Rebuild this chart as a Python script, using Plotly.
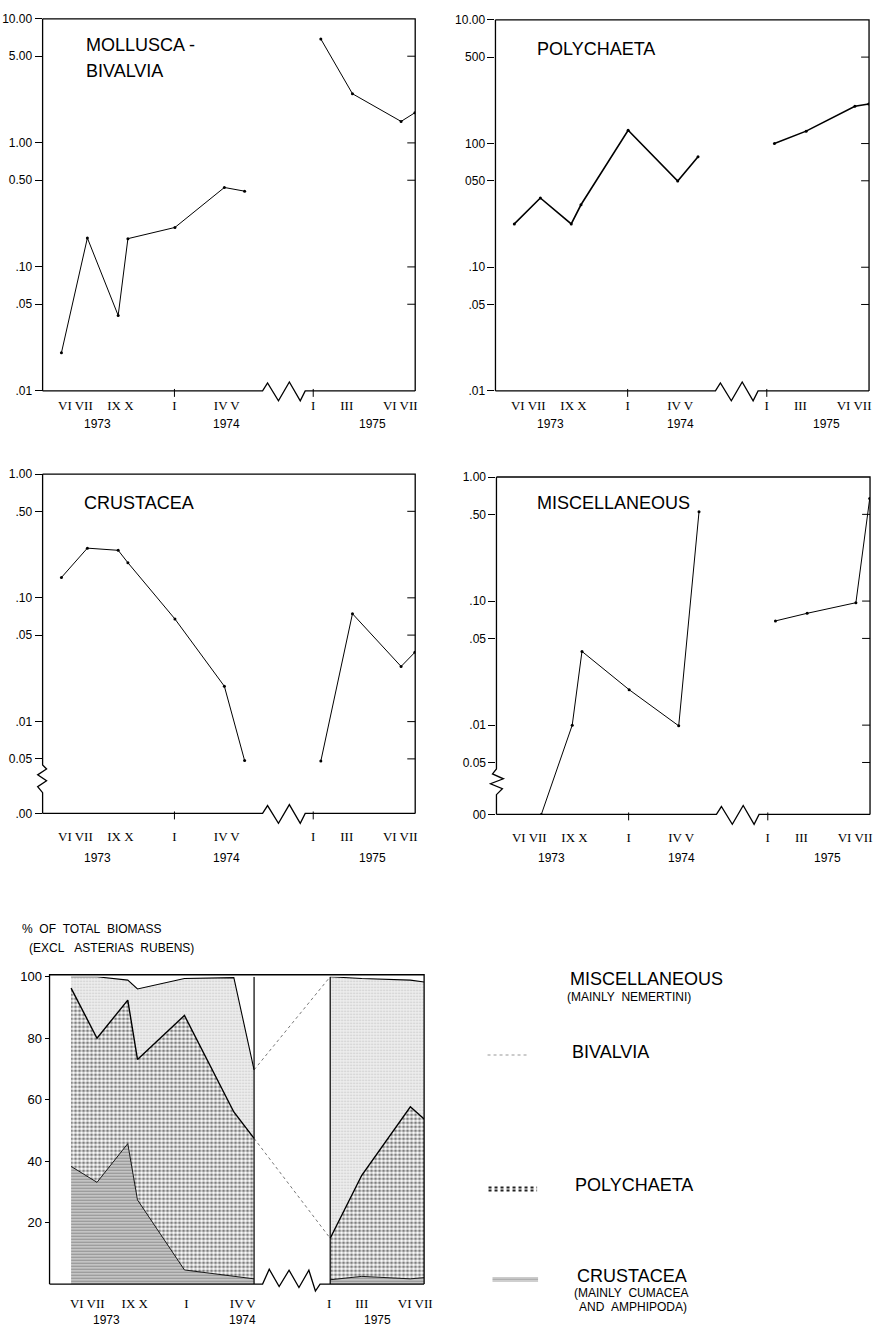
import math
import plotly.graph_objects as go

W, H = 882, 1336

# ---------------- data ----------------
# sampling times in month numbers (Jan 1973 = 1, Jan 1975 = 25)
months_7374 = [6.5, 8.1, 10.0, 10.6, 13.5, 16.55, 17.8]
months_75 = [25.5, 27.45, 30.45, 31.3]
AXIS_GAP = 3.0  # months cut out by the break of the time axis

# biomass (log panels)
mollusca_7374 = [0.0203, 0.171, 0.0406, 0.169, 0.208, 0.437, 0.408]
mollusca_75 = [6.88, 2.49, 1.49, 1.75]
polychaeta_7374 = [0.224, 0.363, 0.224, 0.32, 1.28, 0.497, 0.783]
polychaeta_75 = [1.0, 1.26, 2.0, 2.09]
crustacea_7374 = [0.146, 0.252, 0.242, 0.192, 0.0675, 0.0193, 0.00484]
crustacea_75 = [0.0048, 0.0744, 0.0279, 0.0363]
misc_7374 = [None, 0.0, 0.01, 0.0393, 0.0193, 0.00987, 0.525]
misc_75 = [0.0692, 0.0797, 0.097, 0.67]

# % of total biomass (stacked)
pct_crustacea_7374 = [38.3, 33.1, 45.7, 27.4, 4.6, 2.5, 1.7]
pct_polychaeta_7374 = [58.0, 46.9, 46.7, 45.7, 82.8, 53.5, 45.7]
pct_bivalvia_7374 = [3.7, 20.0, 6.5, 22.9, 12.0, 43.7, 22.3]
pct_misc_7374 = [0.0, 0.0, 1.1, 4.0, 0.6, 0.3, 30.3]
pct_crustacea_75 = [1.4, 2.5, 1.7, 2.1]
pct_polychaeta_75 = [13.5, 32.9, 56.0, 51.6]
pct_bivalvia_75 = [85.1, 64.0, 41.2, 44.6]
pct_misc_75 = [0.0, 0.6, 1.1, 1.7]

# tick labels
month_tick_text = ["VI VII", "IX X", "I", "IV V", "I", "III", "VI VII"]
month_tick_pos = [7.36, 10.14, 13.47, 16.7, 25.03, 27.1, 30.4]
month_tick_pos_pct = [7.5, 10.43, 13.62, 17.1, 25.43, 27.45, 30.75]
year_text = ["1973", "1974", "1975"]
year_pos = [8.7, 16.7, 28.7]
year_pos_pct = [8.66, 17.1, 28.4]

log_tickvals_a = [10, 5, 1, 0.5, 0.1, 0.05, 0.01]
mollusca_ticktext = ["10.00", "5.00", "1.00", "0.50", ".10", ".05", ".01"]
polychaeta_ticktext = ["10.00", "500", "100", "050", ".10", ".05", ".01"]
log_tickvals_b = [1, 0.5, 0.1, 0.05, 0.01, 0.005]
crustacea_ticktext = ["1.00", ".50", ".10", ".05", ".01", "0.05", ".00"]
misc_ticktext = ["1.00", ".50", ".10", ".05", ".01", "0.05", "00"]
pct_tickvals = [100, 80, 60, 40, 20]


def xmap(m):
    return m - AXIS_GAP if m > 20 else m


def px(x, y):
    return x / W, 1 - y / H


def P(x, y):
    a, b = px(x, y)
    return f"{a:.5f},{b:.5f}"


SANS = "Liberation Sans"
SERIF = "Liberation Serif"

fig = go.Figure()
shapes = []
annotations = []

X_RANGE = [5.339, 28.32]

panels = [
    dict(ax="", box=(43, 419, 12, 388), yr=[-2, 1], tv=log_tickvals_a, tt=mollusca_ticktext,
         d1=mollusca_7374, d2=mollusca_75, title=["MOLLUSCA -", "BIVALVIA"], tpos=(85, 38),
         lw=1.0, ybreak=None, ylab=421, tl=2),
    dict(ax="2", box=(500, 877, 13, 388), yr=[-2, 1], tv=log_tickvals_a, tt=polychaeta_ticktext,
         d1=polychaeta_7374, d2=polychaeta_75, title=["POLYCHAETA"], tpos=(540, 42),
         lw=1.6, ybreak=None, ylab=421, tl=2),
    dict(ax="3", box=(43, 419, 472, 815), yr=[-2.742, 0], tv=log_tickvals_b, tt=crustacea_ticktext,
         d1=crustacea_7374, d2=crustacea_75, title=["CRUSTACEA"], tpos=(83, 501),
         lw=1.0, ybreak=[(0, 766), (4, 770), (-5, 776), (4, 782), (-5, 788), (0, 794)], ylab=860, tl=11),
    dict(ax="4", box=(501, 878, 475, 816), yr=[-2.72, 0], tv=log_tickvals_b, tt=misc_ticktext,
         d1=misc_7374, d2=misc_75, title=["MISCELLANEOUS"], tpos=(540, 501),
         lw=1.0, ybreak=[(0, 770), (-4, 775), (7, 780), (-6, 785), (6, 790), (0, 796)], ylab=860, tl=11),
]

for p in panels:
    L, R, T, B = p["box"]
    xa = "x" + p["ax"]
    ya = "y" + p["ax"]
    zero = 10 ** p["yr"][0]

    def fix(vals):
        return [zero if (v is not None and v == 0) else v for v in vals]

    for xs, ys in ((months_7374, p["d1"]), (months_75, p["d2"])):
        fig.add_trace(go.Scatter(
            x=[xmap(m) for m in xs], y=fix(ys), mode="lines+markers",
            line=dict(color="black", width=p["lw"]),
            marker=dict(color="black", size=3), showlegend=False,
            xaxis=xa, yaxis=ya, hoverinfo="skip"))

    tickvals = list(p["tv"])
    if len(tickvals) < len(p["tt"]):
        tickvals.append(zero)
    x0, y1 = px(L, T)
    x1, y0 = px(R, B)
    fig.layout["xaxis" + p["ax"]] = dict(
        domain=[x0, x1], range=X_RANGE, anchor=ya, showgrid=False, zeroline=False, showline=False,
        tickmode="array", tickvals=[xmap(m) for m in month_tick_pos], ticktext=month_tick_text,
        ticks="outside", ticklen=p["tl"], tickcolor="rgba(0,0,0,0)",
        tickfont=dict(family=SERIF, size=13, color="black"), fixedrange=True)
    fig.layout["yaxis" + p["ax"]] = dict(
        domain=[y0, y1], type="log", range=p["yr"], anchor=xa, showgrid=False, zeroline=False,
        showline=False, tickmode="array", tickvals=tickvals, ticktext=p["tt"],
        ticks="outside", ticklen=7, tickwidth=1, tickcolor="black",
        tickfont=dict(family=SANS, size=12, color="black"), fixedrange=True)

    # frame
    line = dict(color="black", width=1.3)
    shapes.append(dict(type="path", xref="paper", yref="paper",
                       path=f"M{P(L, T)} L{P(R, T)} L{P(R, B)}", line=line))
    if p["ybreak"] is None:
        path = f"M{P(L, T)} L{P(L, B)}"
    else:
        pts = [P(L + dx, y) for dx, y in p["ybreak"]]
        path = f"M{P(L, T)} L" + " L".join(pts) + f" L{P(L, B)}"
    shapes.append(dict(type="path", xref="paper", yref="paper", path=path, line=line))
    zz = [(222, 0), (227, -8), (238, 10), (249, -9), (260, 10), (265, 0)]
    path = f"M{P(L, B)} " + " ".join("L" + P(L + dx, B + dy) for dx, dy in zz) + f" L{P(R, B)}"
    shapes.append(dict(type="path", xref="paper", yref="paper", path=path, line=line))

    # inside ticks on the right edge
    r0, r1 = p["yr"]
    for v in p["tv"][1:]:
        if v == p["tv"][-1] and B < 400:
            continue
        frac = (math.log10(v) - r0) / (r1 - r0)
        yy = B - frac * (B - T)
        shapes.append(dict(type="line", xref="paper", yref="paper",
                           x0=px(R - 8, yy)[0], x1=px(R, yy)[0], y0=px(R, yy)[1], y1=px(R, yy)[1],
                           line=dict(color="black", width=1)))
    # small ticks at January
    for m in (month_tick_pos[2], month_tick_pos[4]):
        shapes.append(dict(type="line", xref=xa, yref="paper", x0=xmap(m), x1=xmap(m),
                           y0=px(0, B - 2)[1], y1=px(0, B + 6)[1], line=dict(color="black", width=1)))

    # titles
    tx, ty = p["tpos"]
    for i, t in enumerate(p["title"]):
        annotations.append(dict(text=t, x=px(tx, 0)[0], y=px(0, ty + 27 * i)[1], xref="paper", yref="paper",
                                xanchor="left", yanchor="middle", showarrow=False,
                                font=dict(family=SANS, size=18, color="black")))
    # years
    for t, m in zip(year_text, year_pos):
        annotations.append(dict(text=t, x=xmap(m), y=px(0, p["ylab"])[1], xref=xa, yref="paper",
                                xanchor="center", yanchor="middle", showarrow=False,
                                font=dict(family=SANS, size=12, color="black")))

# ---------------- stacked % chart ----------------
L5, R5, T5, B5 = 50, 428, 980, 1290.6
pat_crus = dict(shape="-", size=3, solidity=0.45, fgcolor="#505050", bgcolor="#cfcfcf")
pat_poly = dict(shape=".", size=4, solidity=0.5, fgcolor="#000000", bgcolor="#ffffff")
pat_biv = dict(shape=".", size=3, solidity=0.25, fgcolor="#9a9a9a", bgcolor="#eeeeee")

for grp, xs, layers in (
    ("a", months_7374, [pct_crustacea_7374, pct_polychaeta_7374, pct_bivalvia_7374, pct_misc_7374]),
    ("b", months_75, [pct_crustacea_75, pct_polychaeta_75, pct_bivalvia_75, pct_misc_75]),
):
    xx = [xmap(m) for m in xs]
    specs = [(pat_crus, 0.9), (pat_poly, 1.4), (pat_biv, 1.1), (None, 0)]
    for vals, (pat, lw) in zip(layers, specs):
        kw = dict(fillpattern=pat) if pat else dict(fillcolor="rgba(255,255,255,0)")
        fig.add_trace(go.Scatter(
            x=xx, y=vals, stackgroup=grp, mode="lines",
            line=dict(color="black", width=lw), showlegend=False,
            xaxis="x5", yaxis="y5", hoverinfo="skip", **kw))

# dotted connections across the gap
cum_poly_end = pct_crustacea_7374[-1] + pct_polychaeta_7374[-1]
cum_poly_start = pct_crustacea_75[0] + pct_polychaeta_75[0]
cum_biv_end = cum_poly_end + pct_bivalvia_7374[-1]
cum_biv_start = cum_poly_start + pct_bivalvia_75[0]
for a, b in ((cum_poly_end, cum_poly_start), (cum_biv_end, cum_biv_start)):
    fig.add_trace(go.Scatter(x=[xmap(months_7374[-1]), xmap(months_75[0])], y=[a, b], mode="lines",
                             line=dict(color="#777777", width=1, dash="dot"), showlegend=False,
                             xaxis="x5", yaxis="y5", hoverinfo="skip"))

x0, y1 = px(L5, T5)
x1, y0 = px(R5, B5)
fig.layout["xaxis5"] = dict(domain=[x0, x1], range=[5.17, 28.3], anchor="y5", showgrid=False, zeroline=False,
                            showline=False, tickmode="array", tickvals=[xmap(m) for m in month_tick_pos_pct],
                            ticktext=month_tick_text, ticks="outside", ticklen=7,
                            tickcolor="rgba(0,0,0,0)", tickfont=dict(family=SERIF, size=13, color="black"),
                            fixedrange=True)
fig.layout["yaxis5"] = dict(domain=[y0, y1], range=[0, 100], anchor="x5", showgrid=False, zeroline=False,
                            showline=False, tickmode="array", tickvals=pct_tickvals,
                            ticktext=[str(v) for v in pct_tickvals], ticks="outside", ticklen=4,
                            tickcolor="black", tickfont=dict(family=SANS, size=13, color="black"),
                            fixedrange=True)

ln = dict(color="black", width=1.3)
shapes.append(dict(type="path", xref="paper", yref="paper",
                   path=f"M{P(L5, B5)} L{P(L5, T5 - 2)} L{P(R5, T5 - 2)} L{P(R5, B5)}", line=ln))
zz5 = [(265, 0), (271.7, -15), (281.7, 2.5), (291.7, -14), (301.7, 3.5), (311.7, -14), (318.3, 7), (323, 0)]
shapes.append(dict(type="path", xref="paper", yref="paper",
                   path=f"M{P(L5, B5)} " + " ".join("L" + P(x, B5 + dy) for x, dy in zz5) + f" L{P(R5, B5)}",
                   line=ln))
for m in (months_7374[-1], months_75[0]):
    shapes.append(dict(type="line", xref="x5", yref="y5", x0=xmap(m), x1=xmap(m), y0=0, y1=100,
                       line=dict(color="black", width=1.2)))
for t, m in zip(year_text, year_pos_pct):
    annotations.append(dict(text=t, x=xmap(m), y=px(0, 1327)[1], xref="x5", yref="paper",
                            xanchor="center", yanchor="middle", showarrow=False,
                            font=dict(family=SANS, size=12, color="black")))

NB = "\u00a0"
for t, x, y in (("%" + NB * 2 + "OF" + NB * 2 + "TOTAL" + NB * 2 + "BIOMASS", 20, 932),
                ("(EXCL" + NB * 3 + "ASTERIAS" + NB * 2 + "RUBENS)", 27, 951)):
    annotations.append(dict(text=t, x=px(x, 0)[0], y=px(0, y)[1], xref="paper", yref="paper",
                            xanchor="left", yanchor="middle", showarrow=False,
                            font=dict(family=SANS, size=12, color="black")))

# ---------------- legend ----------------
legend_items = [
    ("MISCELLANEOUS", 573, 982, 18), ("(MAINLY" + NB * 2 + "NEMERTINI)", 570, 1000, 12),
    ("BIVALVIA", 575, 1056, 18), ("POLYCHAETA", 578, 1190, 18), ("CRUSTACEA", 580, 1282, 18),
    ("(MAINLY" + NB * 2 + "CUMACEA", 577, 1300, 12), ("AND" + NB * 2 + "AMPHIPODA)", 582, 1314, 12),
]
for t, x, y, s in legend_items:
    annotations.append(dict(text=t, x=px(x, 0)[0], y=px(0, y)[1], xref="paper", yref="paper",
                            xanchor="left", yanchor="middle", showarrow=False,
                            font=dict(family=SANS, size=s, color="black")))
shapes.append(dict(type="line", xref="paper", yref="paper", x0=px(492, 0)[0], x1=px(533, 0)[0],
                   y0=px(0, 1059)[1], y1=px(0, 1059)[1], line=dict(color="#bbbbbb", width=1.5, dash="dot")))
for yy in (1193, 1196):
    shapes.append(dict(type="line", xref="paper", yref="paper", x0=px(493, 0)[0], x1=px(542, 0)[0],
                       y0=px(0, yy)[1], y1=px(0, yy)[1], line=dict(color="#222222", width=2, dash="dot")))
for yy, c in ((1284.5, "#777777"), (1286, "#999999"), (1287.5, "#888888")):
    shapes.append(dict(type="line", xref="paper", yref="paper", x0=px(497, 0)[0], x1=px(543, 0)[0],
                       y0=px(0, yy)[1], y1=px(0, yy)[1], line=dict(color=c, width=0.8)))

fig.update_layout(width=W, height=H, margin=dict(l=0, r=0, t=0, b=0), paper_bgcolor="white",
                  plot_bgcolor="white", shapes=shapes, annotations=annotations, showlegend=False,
                  font=dict(family=SANS, color="black"))
fig.write_html("out.html")
